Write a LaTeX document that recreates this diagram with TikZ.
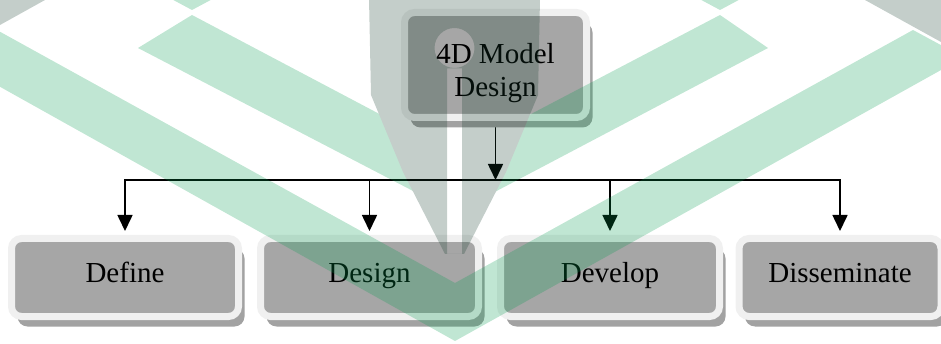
\documentclass[tikz,border=0pt]{standalone}
\usepackage{fontspec}
\setmainfont{Liberation Serif}
\usetikzlibrary{arrows.meta,shadows,backgrounds}

\definecolor{framegrey}{HTML}{F0F0F0}
\definecolor{boxgrey}{HTML}{A6A6A6}
\definecolor{shadegrey}{HTML}{A2A2A2}
\definecolor{leafgreen}{RGB}{3,155,79}
\definecolor{nibgrey}{RGB}{19,59,43}

\begin{document}
\begin{tikzpicture}[x=1pt,y=-1pt,
  stage/.style={draw=framegrey, line width=7pt, fill=boxgrey,
    rounded corners=10pt, inner sep=0pt, minimum height=78pt,
    font=\fontsize{29}{33}\selectfont,
    drop shadow={shadow xshift=6pt, shadow yshift=-10pt,
      fill=shadegrey, opacity=1}},
  oneline/.style={text height=18pt, text depth=7pt},
  twoline/.style={text height=20pt, text depth=22pt},
  link/.style={line width=1.6pt, -{Triangle[width=15pt,length=16pt]}},
  bus/.style={line width=1.6pt, line cap=rect},
  leaf/.style={fill=leafgreen},
  nib/.style={fill=nibgrey}]

\useasboundingbox (0,0) rectangle (941,344);

% top node
\node[stage, twoline, minimum width=182pt, minimum height=105pt]
  (model) at (495.5,65)
  {\begin{tabular}[t]{@{}c@{}}4D Model\\Design\end{tabular}};

% the four stages
\node[stage, oneline, minimum width=227pt] (define)  at (125,277.5)   {Define};
\node[stage, oneline, minimum width=218pt] (design)  at (369.5,277.5) {Design};
\node[stage, oneline, minimum width=219pt] (develop) at (610,277.5)   {Develop};
\node[stage, oneline, minimum width=202pt] (dissem)  at (840,277.5)   {Disseminate};

\coordinate (split) at (495.5,180);

\begin{scope}[on background layer]
  \draw[link] (model.south) -- (split);
  \draw[bus] (define.north |- split) -- (dissem.north |- split);
  \foreach \n in {define,design,develop,dissem}
    \draw[link, shorten >=4pt] (\n.north |- split) -- (\n.north);
\end{scope}

% faint logo laid over the chart
\begin{scope}[transparency group, opacity=0.25]
  \clip (0,0) rectangle (941,344);
  % green chevrons
  \fill[leaf] (-5,29) -- (455,283) -- (913,30) -- (950,50) -- (950,65)
              -- (455,341) -- (-5,84) -- cycle;
  \fill[leaf] (138,48) -- (192,15) -- (440,146) -- (440,205) -- cycle;
  \fill[leaf] (768,48) -- (720,15) -- (470,146) -- (470,205) -- cycle;
  \fill[leaf] (164,-5) -- (192,10) -- (220,-5) -- cycle;
  \fill[leaf] (692,-5) -- (720,10) -- (748,-5) -- cycle;
  % grey corner pieces
  \fill[nib] (0,0) -- (45,0) -- (0,25) -- cycle;
  \fill[nib] (865,0) -- (941,0) -- (941,42) -- cycle;
  % pen nib with its breather hole and slit
  \fill[nib, even odd rule]
    (369,-2) -- (371,95) -- (403,172) -- (445,254) -- (464,254)
    -- (506,172) -- (538,95) -- (540,-2) -- cycle
    (454.5,48) circle[radius=20pt]
    (447,68.5) rectangle (462,254);
\end{scope}
\end{tikzpicture}
\end{document}
